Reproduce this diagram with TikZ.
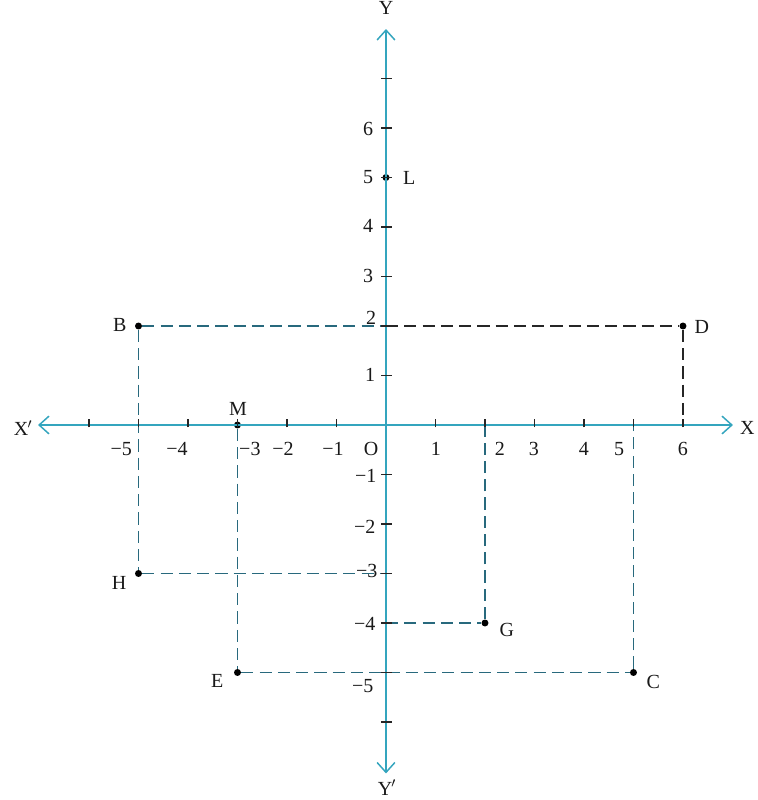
\documentclass[tikz,border=0pt]{standalone}
\usepackage{fontspec}
\setmainfont{Liberation Serif}
\usetikzlibrary{arrows.meta}
\definecolor{axisc}{RGB}{52,165,190}
\definecolor{dashc}{RGB}{40,105,125}
\begin{document}
\begin{tikzpicture}[x=1cm,y=1cm,
  axisline/.style={draw=axisc, line width=0.85pt, {Straight Barb[length=2mm,width=3.6mm]}-{Straight Barb[length=2mm,width=3.6mm]}},
  tickmark/.style={draw=black!85, line width=0.65pt},
  lbl/.style={font=\fontsize{11.5}{13}\selectfont, inner sep=0pt, text=black!90},
  dashcyan/.style={draw=dashc, line width=0.75pt, dash pattern=on 7pt off 3.5pt},
  dashblack/.style={draw=black!85, line width=0.75pt, dash pattern=on 7pt off 3.5pt},
  pt/.style={circle, fill=black, inner sep=0pt, minimum size=4pt},
]
\useasboundingbox (-7.798,-7.576) rectangle (7.515,8.586);

% axis end points
\coordinate (xl) at (-7.03,0);
\coordinate (xr) at (7.01,0);
\coordinate (yt) at (0,8.0);
\coordinate (yb) at (0,-7.04);

% points
\node[pt] (B) at (-5,2) {};
\node[pt] (D) at (6,2) {};
\node[pt] (L) at (0,5) {};
\node[pt] (M) at (-3,0) {};
\node[pt] (H) at (-5,-3) {};
\node[pt] (G) at (2,-4) {};
\node[pt] (E) at (-3,-5) {};
\node[pt] (C) at (5,-5) {};

% feet on the axes
\coordinate (B0) at (0,2);
\coordinate (D0) at (6,0);
\coordinate (H0) at (0,-3);
\coordinate (C0) at (5,0);
\coordinate (G0) at (0,-4);
\coordinate (G2) at (2,0);

% dashed construction lines
\draw[dashcyan] (B) -- (B0);
\draw[dashblack] (B0) -- (D);
\draw[dashblack] (D) -- (D0);
\draw[dashcyan] (B) -- (H);
\draw[dashcyan] (H) -- (H0);
\draw[dashcyan] (M) -- (E);
\draw[dashcyan] (E) -- (C);
\draw[dashcyan] (C) -- (C0);
\draw[dashcyan] (G0) -- (G);
\draw[dashcyan] (G) -- (G2);

% axes
\draw[axisline] (xl) -- (xr);
\draw[axisline] (yb) -- (yt);

% ticks
\foreach \i in {-6,-5,-4,-3,-2,-1,1,2,3,4,5,6}
  \draw[tickmark] (\i,-0.05) -- (\i,0.12);
\foreach \j in {-6,-5,-4,-3,-2,-1,1,2,3,4,5,6,7}
  \draw[tickmark] (-0.1,\j) -- (0.13,\j);

% axis names
\node[lbl] (Xn) at (7.3,-0.06) {X};
\node[lbl] (Xpn) at (-7.33,-0.06) {X\kern-0.5pt$'$};
\node[lbl] (Yn) at (0,8.42) {Y};
\node[lbl] (Ypn) at (0.02,-7.33) {Y\kern-0.5pt$'$};

% x tick labels
\node[lbl] at (-5.35,-0.485) {−5};
\node[lbl] at (-4.22,-0.485) {−4};
\node[lbl] at (-2.75,-0.485) {−3};
\node[lbl] at (-2.08,-0.485) {−2};
\node[lbl] at (-1.07,-0.485) {−1};
\node[lbl] at (-0.30,-0.485) {O};
\node[lbl] at (1.01,-0.485) {1};
\node[lbl] at (2.30,-0.485) {2};
\node[lbl] at (2.99,-0.485) {3};
\node[lbl] at (4.0,-0.485) {4};
\node[lbl] at (4.71,-0.485) {5};
\node[lbl] at (6.0,-0.485) {6};

% y tick labels
\node[lbl] at (-0.36,5.99) {6};
\node[lbl] at (-0.36,5.0) {5};
\node[lbl] at (-0.36,4.03) {4};
\node[lbl] at (-0.36,3.02) {3};
\node[lbl] at (-0.30,2.17) {2};
\node[lbl] at (-0.32,1.01) {1};
\node[lbl] at (-0.41,-1.03) {−1};
\node[lbl] at (-0.43,-2.06) {−2};
\node[lbl] at (-0.39,-2.94) {−3};
\node[lbl] at (-0.43,-4.01) {−4};
\node[lbl] at (-0.47,-5.28) {−5};

% point labels
\node[lbl] (Bl) at (-5.38,2.02) {B};
\node[lbl] (Dl) at (6.38,1.98) {D};
\node[lbl] (Ll) at (0.47,5.0) {L};
\node[lbl] (Ml) at (-2.99,0.33) {M};
\node[lbl] (Hl) at (-5.39,-3.2) {H};
\node[lbl] (Gl) at (2.44,-4.15) {G};
\node[lbl] (El) at (-3.41,-5.18) {E};
\node[lbl] (Cl) at (5.4,-5.2) {C};
\end{tikzpicture}
\end{document}
